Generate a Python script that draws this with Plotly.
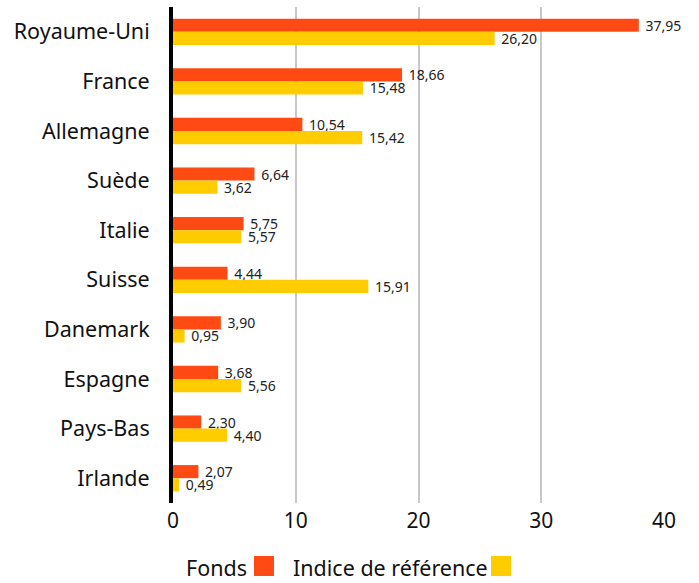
import plotly.graph_objects as go

countries = ["Royaume-Uni", "France", "Allemagne", "Suède", "Italie", "Suisse",
             "Danemark", "Espagne", "Pays-Bas", "Irlande"]
fonds = [37.95, 18.66, 10.54, 6.64, 5.75, 4.44, 3.90, 3.68, 2.30, 2.07]
indice = [26.20, 15.48, 15.42, 3.62, 5.57, 15.91, 0.95, 5.56, 4.40, 0.49]
x_ticks = [0, 10, 20, 30, 40]

RED = "#FF4A14"
YELLOW = "#FFCC00"
FONT = "Noto Sans"

def fmt(v):
    return "\u00a0" + f"{v:.2f}".replace(".", ",")

fig = go.Figure()
fig.add_trace(go.Bar(
    y=countries, x=fonds, orientation="h", name="Fonds",
    marker=dict(color=RED, line=dict(width=0)),
    text=[fmt(v) for v in fonds], textposition="outside", constraintext="none",
    textfont=dict(size=14, color="#222222", family=FONT), cliponaxis=False,
))
fig.add_trace(go.Bar(
    y=countries, x=indice, orientation="h", name="Indice de référence",
    marker=dict(color=YELLOW, line=dict(width=0)),
    text=[fmt(v) for v in indice], textposition="outside", constraintext="none",
    textfont=dict(size=14, color="#222222", family=FONT), cliponaxis=False,
))

L, R, T, B = 173, 35, 7, 80
W, H = 699, 583

fig.update_layout(
    width=W, height=H,
    margin=dict(l=L, r=R, t=T, b=B, autoexpand=False),
    barmode="group", bargap=0.47, bargroupgap=0,
    plot_bgcolor="white", paper_bgcolor="white",
    showlegend=False,
    font=dict(family=FONT, color="#111111"),
    xaxis=dict(
        range=[0, 40], tickvals=x_ticks, ticktext=[str(t) for t in x_ticks],
        showgrid=True, gridcolor="#c8c8c8", gridwidth=2,
        zeroline=False, showline=False, ticks="", automargin=False,
        ticklabelstandoff=3,
        tickfont=dict(size=21, color="#111111", family=FONT),
    ),
    yaxis=dict(
        autorange="reversed", showgrid=False, zeroline=False,
        showline=True, linecolor="black", linewidth=4, ticks="",
        ticklabelstandoff=15, automargin=False,
        tickfont=dict(size=21.5, color="#111111", family=FONT),
    ),
)

pw, ph = W - L - R, H - T - B
def px(xp):
    return (xp - L) / pw
def py(yp):
    return (H - B - yp) / ph

fig.add_annotation(text="Fonds", x=px(184), y=py(567), xref="paper", yref="paper",
                   xanchor="left", yanchor="middle", showarrow=False,
                   font=dict(size=21.5, color="#111111", family=FONT))
fig.add_annotation(text="Indice de référence", x=px(291), y=py(567), xref="paper", yref="paper",
                   xanchor="left", yanchor="middle", showarrow=False,
                   font=dict(size=21.5, color="#111111", family=FONT))
fig.add_shape(type="rect", xref="paper", yref="paper",
              x0=px(254), x1=px(274), y0=py(576), y1=py(556),
              fillcolor=RED, line=dict(width=0))
fig.add_shape(type="rect", xref="paper", yref="paper",
              x0=px(491), x1=px(511), y0=py(576), y1=py(556),
              fillcolor=YELLOW, line=dict(width=0))

fig.write_html("out.html", config={"displayModeBar": False},
               post_script="document.body.style.margin='0';document.body.style.overflow='hidden';")
